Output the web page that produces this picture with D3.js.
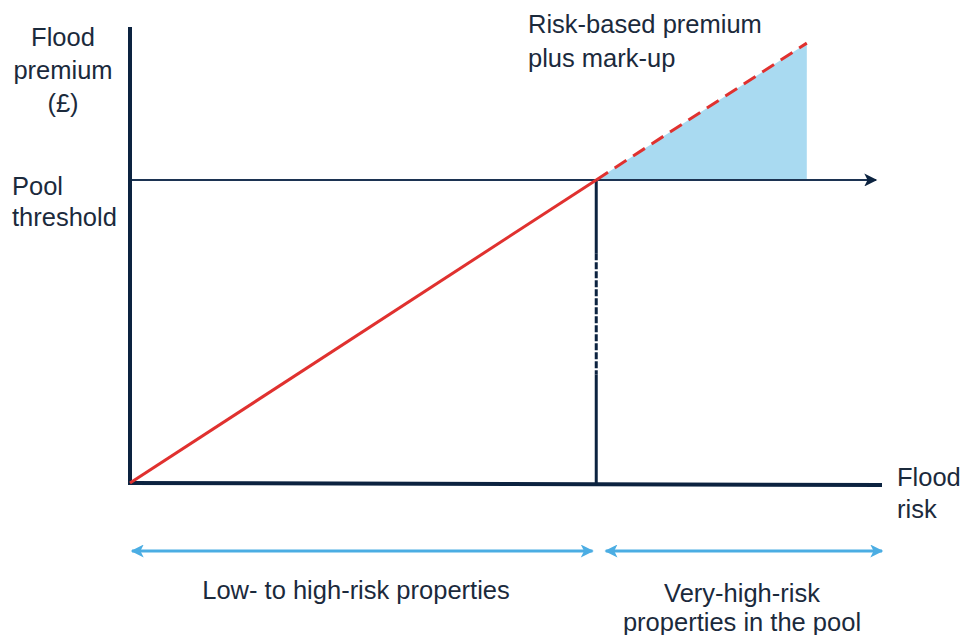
<!DOCTYPE html>
<html>
<head>
<meta charset="utf-8">
<script src="https://cdn.jsdelivr.net/npm/d3@7"></script>
<style>
  body { margin: 0; background: #fff; }
  svg text { font-family: "Liberation Sans", Arial, sans-serif; fill: #1b2a3c; }
</style>
</head>
<body>
<div id="chart"></div>
<script>
// flood risk (x) and premium (y), arbitrary units
const riskExtent     = [0, 10];
const premiumExtent  = [0, 9.33];
const thresholdRisk  = 6.2;
const thresholdPrem  = 6.2;
const markupRisk     = [6.2, 9.0];
const markupPrem     = [6.2, 9.0];
const basePremRisk   = [0, 6.2];
const basePrem       = [0, 6.2];
const yLabel         = ["Flood", "premium", "(£)"];
const thresholdLabel = ["Pool", "threshold"];
const markupLabel    = ["Risk-based premium", "plus mark-up"];
const xLabel         = ["Flood", "risk"];
const bandLabels     = [["Low- to high-risk properties"], ["Very-high-risk", "properties in the pool"]];
const bandRanges     = [[0, 6.15], [6.3, 10]];

window.onload = () => {
    const dimensions = {
        width: 962,
        height: 635,
        margin: { top: 27, bottom: 152, left: 130, right: 80 }
    };

    const navy = "#0c2340";
    const red = "#e0312f";
    const lightBlue = "#a9daf1";
    const arrowBlue = "#4bade3";

    const svg = d3.select("#chart")
        .append("svg")
        .attr("width", dimensions.width)
        .attr("height", dimensions.height);

    const xScale = d3.scaleLinear()
        .domain(riskExtent)
        .range([dimensions.margin.left, dimensions.width - dimensions.margin.right]);
    const yScale = d3.scaleLinear()
        .domain(premiumExtent)
        .range([dimensions.height - dimensions.margin.bottom, dimensions.margin.top]);

    const defs = svg.append("defs");
    const marker = (id, color, w, h) => defs.append("marker")
        .attr("id", id)
        .attr("viewBox", "0 0 10 10")
        .attr("refX", 9).attr("refY", 5)
        .attr("markerUnits", "userSpaceOnUse")
        .attr("markerWidth", w).attr("markerHeight", h)
        .attr("orient", "auto-start-reverse")
        .append("path")
        .attr("d", "M0,0 L10,5 L0,10 L2.5,5 Z")
        .attr("fill", color);
    marker("navyArrow", navy, 15, 13);
    marker("blueArrow", arrowBlue, 15, 13);

    // mark-up triangle
    const area = d3.area()
        .x((d, i) => xScale(markupRisk[i]))
        .y0(yScale(thresholdPrem))
        .y1((d, i) => yScale(markupPrem[i]));
    svg.append("path")
        .datum(markupRisk)
        .attr("d", area)
        .attr("fill", lightBlue);

    // pool threshold line
    svg.append("line")
        .attr("x1", xScale(0))
        .attr("x2", xScale(9.92))
        .attr("y1", yScale(thresholdPrem))
        .attr("y2", yScale(thresholdPrem))
        .attr("stroke", "#1c3352")
        .attr("stroke-width", 2)
        .attr("marker-end", "url(#navyArrow)");

    // vertical at threshold: solid, dashed, solid
    const vx = xScale(thresholdRisk);
    const vSegs = [
        { y1: thresholdPrem, y2: 4.7, dash: null },
        { y1: 4.7, y2: 2.22, dash: "7,2" },
        { y1: 2.22, y2: 0, dash: null }
    ];
    svg.selectAll(".vseg")
        .data(vSegs)
        .join("line")
        .attr("x1", vx).attr("x2", vx)
        .attr("y1", d => yScale(d.y1))
        .attr("y2", d => yScale(d.y2))
        .attr("stroke", navy)
        .attr("stroke-width", 3)
        .attr("stroke-dasharray", d => d.dash);

    // axes
    svg.append("line")
        .attr("x1", xScale(0)).attr("x2", xScale(0))
        .attr("y1", yScale(premiumExtent[1])).attr("y2", yScale(0) + 2)
        .attr("stroke", navy).attr("stroke-width", 4);
    svg.append("line")
        .attr("x1", xScale(0) - 2).attr("x2", xScale(riskExtent[1]))
        .attr("y1", yScale(0)).attr("y2", yScale(0) + 2)
        .attr("stroke", navy).attr("stroke-width", 4);

    // risk-based premium line
    const line = d3.line()
        .x((d, i) => xScale(d))
        .y((d, i) => yScale(basePrem[i]));
    svg.append("path")
        .attr("d", line(basePremRisk))
        .attr("fill", "none")
        .attr("stroke", red)
        .attr("stroke-width", 3);
    const line2 = d3.line()
        .x(d => xScale(d))
        .y((d, i) => yScale(markupPrem[i]));
    svg.append("path")
        .attr("d", line2(markupRisk))
        .attr("fill", "none")
        .attr("stroke", red)
        .attr("stroke-width", 3)
        .attr("stroke-dasharray", "14,8");

    // band arrows
    const bandY = yScale(0) + 68;
    svg.selectAll(".band")
        .data(bandRanges)
        .join("line")
        .attr("x1", d => xScale(d[0]) + 2)
        .attr("x2", d => xScale(d[1]))
        .attr("y1", bandY).attr("y2", bandY)
        .attr("stroke", arrowBlue)
        .attr("stroke-width", 3)
        .attr("marker-start", "url(#blueArrow)")
        .attr("marker-end", "url(#blueArrow)");

    // text blocks
    const fs = 25.5;
    const block = (lines, x, y, anchor, lh) => {
        const t = svg.append("text")
            .attr("x", x).attr("y", y)
            .attr("text-anchor", anchor)
            .style("font-size", fs + "px");
        t.selectAll("tspan")
            .data(lines)
            .join("tspan")
            .attr("x", x)
            .attr("dy", (d, i) => i === 0 ? 0 : lh)
            .text(d => d);
    };
    block(yLabel, 63, 46, "middle", 33);
    block(thresholdLabel, 12, 195, "start", 31);
    block(markupLabel, 528, 33, "start", 34);
    block(xLabel, 897, 486, "start", 32);
    block(bandLabels[0], 356, 599, "middle", 30);
    block(bandLabels[1], 742, 602, "middle", 29);
}
</script>
</body>
</html>
